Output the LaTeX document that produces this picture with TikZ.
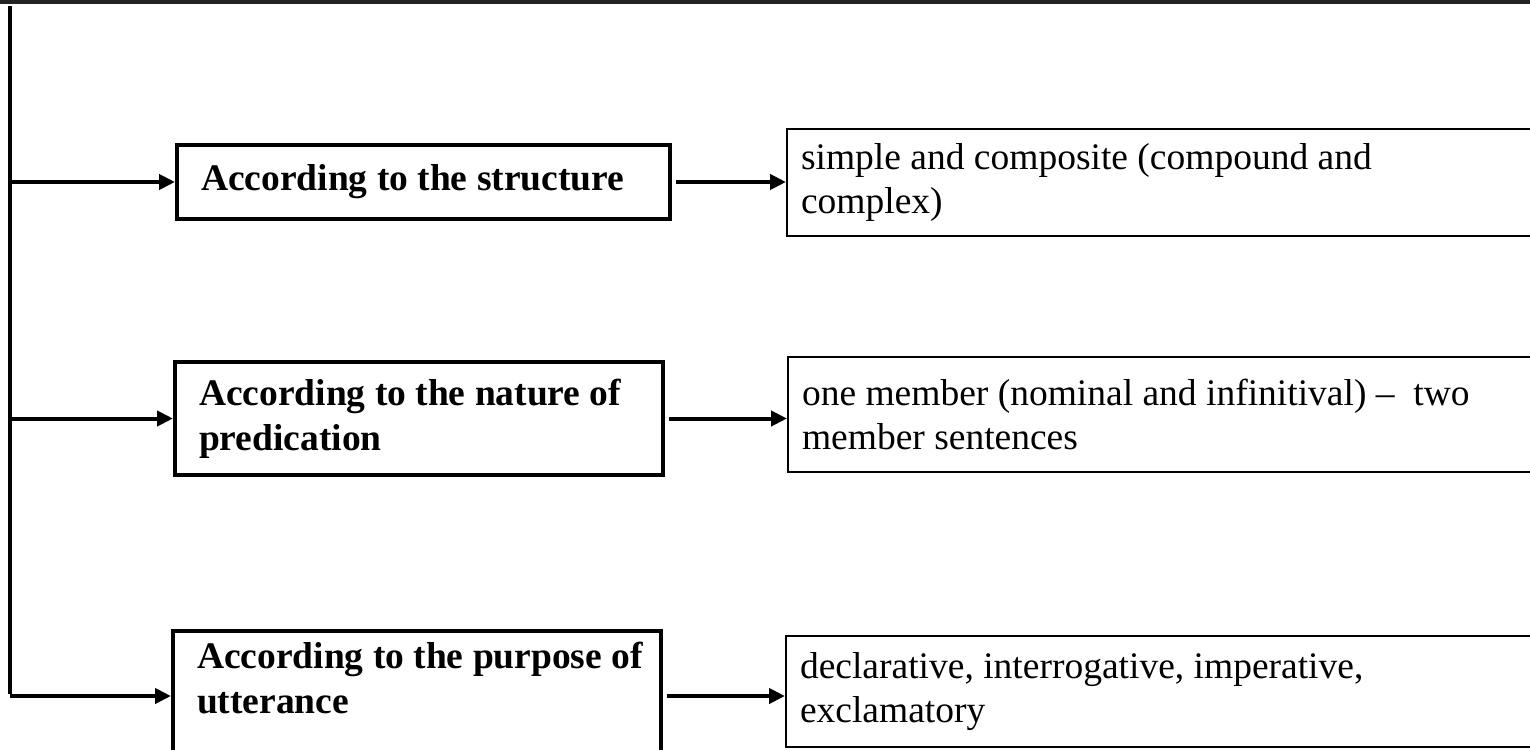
\documentclass[tikz,border=0pt]{standalone}
\usepackage{fontspec}
\setmainfont{Liberation Serif}
\usetikzlibrary{
  arrows.meta,
  positioning
}
\definecolor{linecolor}{RGB}{0,0,0}
\definecolor{rulecolor}{RGB}{35,35,35}
\tikzset{
blocktext/.style={
  align=flush left,
  text=black
},
criterionblock/.style={
  draw=linecolor,
  line width=2pt,
  anchor=north west,
  text width=220pt,
  inner xsep=12pt,
  inner ysep=0pt,
  blocktext,
  font=\fontsize{18.75}{22.5}\selectfont\bfseries
},
resultblock/.style={
  draw=linecolor,
  line width=1pt,
  anchor=north west,
  text width=366pt,
  inner xsep=7pt,
  inner ysep=0pt,
  blocktext,
  font=\fontsize{18.75}{22}\selectfont
},
arrow/.style={
  -{Triangle[length=8pt,width=7.5pt]},
  line width=2pt,
  draw=linecolor
},
trunkline/.style={
  line width=2pt,
  draw=linecolor
},
topline/.style={
  line width=2pt,
  draw=rulecolor
}
}

\begin{document}
\begin{tikzpicture}[x=0.5pt, y=-0.5pt]
  \clip (0,0) rectangle (1530,749);
  \draw[topline] (0,2) -- (1530,2);

  % criteria on the left
  \node[criterionblock, minimum height=37pt, text width=222.5pt] (structure) at (175,143)
    {According to the structure};
  \node[criterionblock, minimum height=56.5pt] (predication) at (173,360)
    {According to the nature of\\predication};
  \node[criterionblock, minimum height=65pt, text depth=40.5pt] (purpose) at (171,629)
    {\mbox{According to the purpose of}\\utterance};

  % kinds of sentences on the right
  \node[resultblock, minimum height=53.5pt] (composite) at (786,128)
    {simple and composite (compound and\\complex)};
  \node[resultblock, minimum height=57.5pt] (members) at (787,356)
    {one member (nominal and infinitival) --\ \ two\\member sentences};
  \node[resultblock, minimum height=55.5pt] (utterance) at (785,635)
    {declarative, interrogative, imperative,\\exclamatory};

  % trunk and branches
  \coordinate (trunktop) at (10,6);
  \coordinate (trunkbottom) at (10,694);
  \draw[trunkline] (trunktop) -- (trunkbottom);
  \foreach \crit in {structure, predication, purpose}
    \draw[arrow] (trunktop |- \crit.west) -- (\crit.west);

  \draw[arrow] ([xshift=2pt]structure.east) -- (structure.east -| composite.west);
  \draw[arrow] ([xshift=2pt]predication.east) -- (predication.east -| members.west);
  \draw[arrow] ([xshift=2pt]purpose.east) -- (purpose.east -| utterance.west);
\end{tikzpicture}
\end{document}
